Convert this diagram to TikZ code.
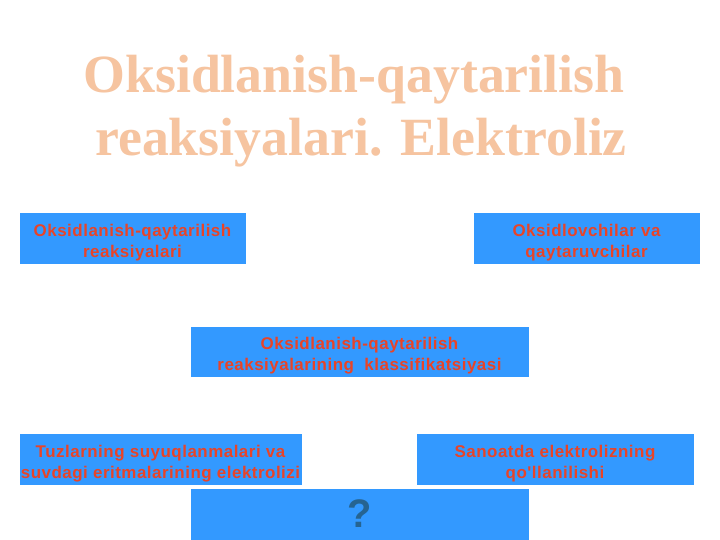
\documentclass[tikz,border=0pt]{standalone}
\usepackage{fontspec}
\setmainfont{Liberation Serif}
\newfontfamily\boxfont{Liberation Sans}[LetterSpace=3]
\newfontfamily\qfont{Liberation Sans}
\definecolor{boxblue}{RGB}{51,153,255}
\definecolor{boxred}{RGB}{232,68,40}
\definecolor{titlecol}{RGB}{246,196,160}
\definecolor{qcol}{RGB}{38,100,145}
\newcommand{\tstrut}{\rule{0pt}{21bp}}
\tikzset{
  topic/.style={rectangle, fill=boxblue, draw=white, line width=0.6pt, inner sep=0pt,
    align=center, text=boxred, font=\boxfont\bfseries\fontsize{17}{21}\selectfont},
  titletext/.style={text=titlecol, font=\bfseries\fontsize{54}{60}\selectfont, inner sep=0pt, anchor=base}
}
\begin{document}
\begin{tikzpicture}[x=1bp, y=-1bp]
\useasboundingbox[fill=white] (0,0) rectangle (720,540);
% title
\node[titletext] (t1) at (354,93) {Oksidlanish-qaytarilish};
\node[titletext] (t2) at (361,156) {reaksiyalari. Elektroliz};
% boxes
\node[topic, minimum width=227bp, minimum height=52bp] (b1) at (132.5,238) {\tstrut Oksidlanish-qaytarilish\\reaksiyalari};
\node[topic, minimum width=227bp, minimum height=52bp] (b2) at (586.5,238) {\tstrut Oksidlovchilar va\\qaytaruvchilar};
\node[topic, minimum width=339bp, minimum height=51bp] (b3) at (359.5,351.5) {\tstrut Oksidlanish-qaytarilish\\reaksiyalarining\ \ klassifikatsiyasi};
\node[topic, minimum width=283bp, minimum height=52bp] (b4) at (160.5,459) {\tstrut Tuzlarning suyuqlanmalari va\\suvdagi eritmalarining elektrolizi};
\node[topic, minimum width=278bp, minimum height=52bp] (b5) at (555,459) {\tstrut Sanoatda elektrolizning\\qo'llanilishi};
\node[topic, minimum width=339bp, minimum height=53bp, text=qcol, text height=30bp, text depth=4bp, font=\qfont\bfseries\fontsize{40}{40}\selectfont] (b6) at (359.5,514.5) {?};
\end{tikzpicture}
\end{document}
